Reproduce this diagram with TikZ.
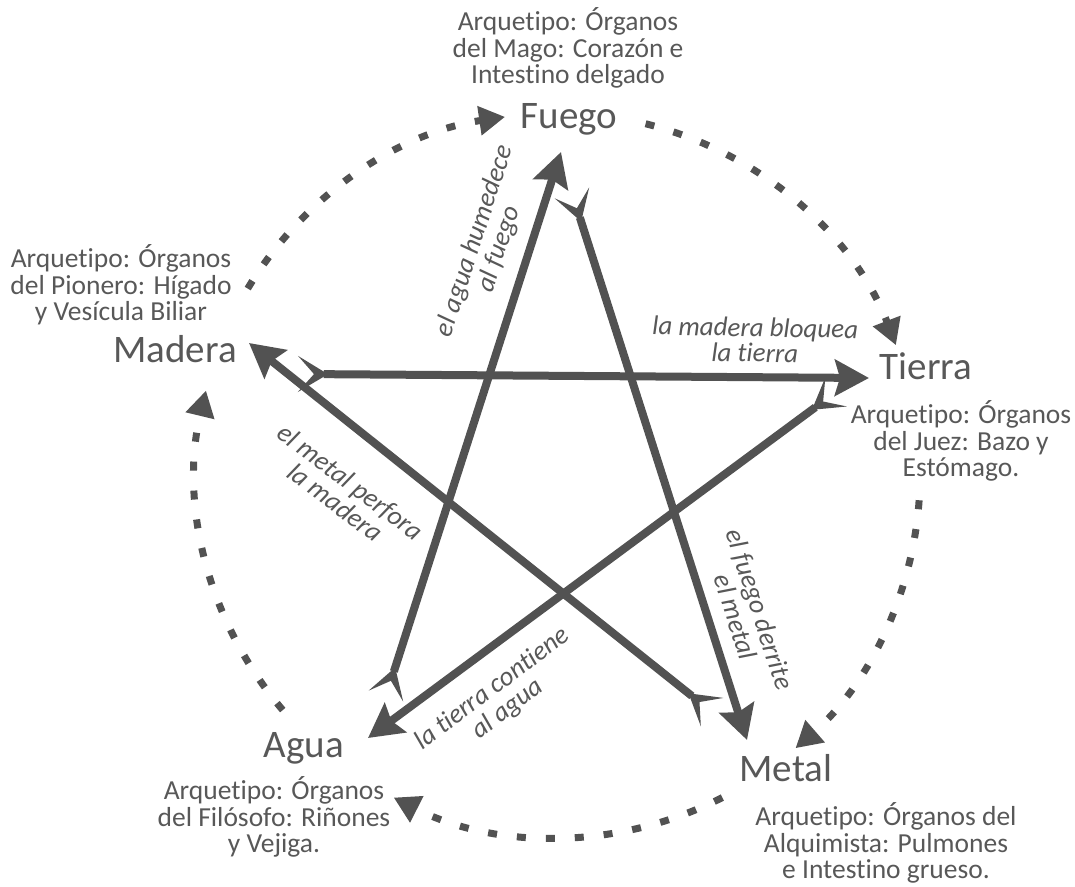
\documentclass[tikz,border=0pt]{standalone}
\usepackage{fontspec}
\setmainfont{Carlito}[Ligatures=NoCommon]
\usetikzlibrary{arrows.meta}
\definecolor{ink}{RGB}{82,82,82}
\definecolor{txt}{RGB}{88,88,88}
\begin{document}
\begin{tikzpicture}[x=1pt,y=1pt,
  elem/.style={font=\fontsize{39}{39}\selectfont, text=txt, inner sep=0pt, anchor=base},
  arch/.style={font=\fontsize{27.5}{26.5}\selectfont, text=txt, align=center, inner sep=0pt},
  lbl/.style={font=\fontsize{27}{25.5}\selectfont\itshape, text=txt, align=center, inner sep=0pt},
  starline/.style={draw=ink, line width=8pt,
    {Stealth[reversed, length=30pt, width=36pt, inset=16pt]}-{Stealth[length=34pt, width=36pt, inset=5pt]}},
  dasharc/.style={draw=ink, line width=7pt, dash pattern=on 9pt off 20pt,
    -{Triangle[length=26pt, width=28pt]}}
]
\useasboundingbox (0,0) rectangle (1075,886);

% element names
\node[elem] (fuego)  at (569,757) {Fuego};
\node[elem] (madera) at (175,523) {Madera};
\node[elem] (tierra) at (926,506) {Tierra};
\node[elem] (agua)   at (304,129) {Agua};
\node[elem] (metal)  at (786,105) {Metal};

% archetypes
\node[arch] (afuego)  at (568,838) {Arquetipo: Órganos\\del Mago: Corazón e\\Intestino delgado};
\node[arch] (amadera) at (121,601) {Arquetipo: Órganos\\del Pionero: Hígado\\y Vesícula Biliar};
\node[arch] (atierra) at (961,445) {Arquetipo: Órganos\\del Juez: Bazo y\\Estómago.};
\node[arch] (aagua)   at (274,69)  {Arquetipo: Órganos\\del Filósofo: Riñones\\y Vejiga.};
\node[arch] (ametal)  at (886,43)  {Arquetipo: Órganos del\\Alquimista: Pulmones\\e Intestino grueso.};

% star end points
\coordinate (aguaTail)   at (386,190);
\coordinate (fuegoHead)  at (561,734);
\coordinate (fuegoTail)  at (572,693);
\coordinate (metalHead)  at (747,146);
\coordinate (metalTail)  at (712,174);
\coordinate (maderaHead) at (249,543);
\coordinate (maderaTail) at (298,512);
\coordinate (tierraHead) at (869,508);
\coordinate (tierraTail) at (836,494);
\coordinate (aguaHead)   at (368,148);

\draw[starline] (aguaTail) -- (fuegoHead);
\draw[starline] (fuegoTail) -- (metalHead);
\draw[starline] (metalTail) -- (maderaHead);
\draw[starline] (maderaTail) -- (tierraHead);
\draw[starline] (tierraTail) -- (aguaHead);

% star labels
\node[lbl, rotate=72]  (l1) at (487,641) {el agua humedece\\al fuego};
\node[lbl, rotate=-1]  (l2) at (755,546) {la madera bloquea\\la tierra};
\node[lbl, rotate=-37] (l3) at (343,394) {el metal perfora\\la madera};
\node[lbl, rotate=-72] (l4) at (748,273) {el fuego derrite\\el metal};
\node[lbl, rotate=37]  (l5) at (500,187) {la tierra contiene\\al agua};

% outer cycle
\coordinate (cen) at (558,411);
\draw[dasharc] ([shift={(149:362)}]cen) arc[start angle=149, end angle=98.4, radius=362];
\draw[dasharc] ([shift={(76:362)}]cen) arc[start angle=76, end angle=21, radius=362];
\draw[dasharc] ([shift={(-4:362)}]cen) arc[start angle=-4, end angle=-49, radius=362];
\draw[dasharc] ([shift={(-63:362)}]cen) arc[start angle=-63, end angle=-117, radius=362];
\draw[dasharc] ([shift={(-139.5:362)}]cen) arc[start angle=-139.5, end angle=-193.5, radius=362];
\end{tikzpicture}
\end{document}
